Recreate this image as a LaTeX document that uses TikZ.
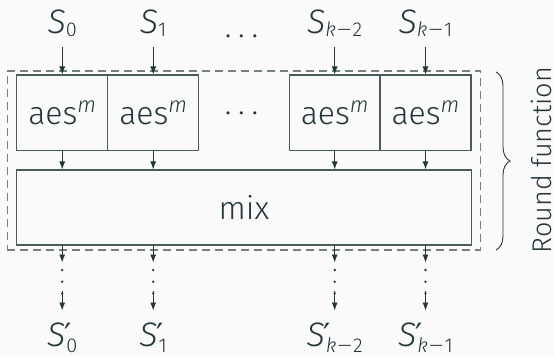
\documentclass[tikz,border=0pt]{standalone}
\usepackage{fontspec}
\setmainfont{Fira Sans Light}
\newfontfamily\djv{DejaVu Sans}
\usetikzlibrary{arrows.meta,decorations.pathreplacing}
\definecolor{fg}{HTML}{23373B}
\definecolor{bgc}{HTML}{FAFAFA}
\definecolor{dashc}{HTML}{75817F}
\definecolor{boxc}{HTML}{4A5B5E}
\newcommand\supm{\raisebox{12pt}{\fontsize{22}{22}\selectfont\itshape m}}
\newcommand\mminus{\scalebox{1.7}[1]{−}}
\newcommand\sublbl[1]{{\fontsize{34}{38}\selectfont\textit{S}}\raisebox{-3pt}{\fontsize{20}{20}\selectfont #1}}
\newcommand\sublblp[1]{{\fontsize{34}{38}\selectfont\textit{S}}\rlap{\kern-1pt\raisebox{0pt}{\fontsize{32}{32}\djv ′}}\kern1pt\raisebox{-6pt}{\fontsize{20}{20}\selectfont #1}}
\tikzset{
  every node/.style={text=fg, font=\fontsize{32}{38}\selectfont},
  opbox/.style={draw=boxc, line width=1.2pt, minimum height=75.7pt, inner sep=0pt},
  arr/.style={draw=fg, line width=0.9pt, -{Latex[length=8pt,width=6pt]}},
  dotl/.style={draw=fg, line width=2.6pt, line cap=round, dash pattern=on 0pt off 11.7pt},
  lbl/.style={anchor=base, inner sep=0pt},
}
\begin{document}
\begin{tikzpicture}[x=1pt,y=-1pt]
\fill[bgc] (0,0) rectangle (554,356);
\useasboundingbox (0,0) rectangle (554,356);
% dashed round-function frame
\node[draw=dashc, line width=1.2pt, dash pattern=on 8pt off 5pt, minimum width=473.4pt, minimum height=179pt, inner sep=0pt] (rf) at (244,160.5) {};
% boxes
\node[opbox, minimum width=91pt] (a0) at (62.2,112.9) {aes\supm};
\node[opbox, minimum width=91pt] (a1) at (153.2,112.9) {aes\supm};
\node[opbox, minimum width=91pt] (a2) at (334.7,112.9) {aes\supm};
\node[opbox, minimum width=91pt] (a3) at (425.5,112.9) {aes\supm};
\node[opbox, minimum width=454.5pt, minimum height=75pt] (mix) at (243.95,207.5) {mix};
% dots
\node[lbl] (d1) at (241.5,37.7) {.\kern6.8pt.\kern6.8pt.};
\node[lbl] (d2) at (241.5,114) {.\kern6.8pt.\kern6.8pt.};
% input labels
\node[lbl] (s0) at (62.2,33) {\sublbl{0}};
\node[lbl] (s1) at (153.2,33) {\sublbl{1}};
\node[lbl] (s2) at (334.7,33) {\sublbl{{\itshape k}\mminus2}};
\node[lbl] (s3) at (425.5,33) {\sublbl{{\itshape k}\mminus1}};
% output labels
\node[lbl] (t0) at (62.2,346.7) {\sublblp{0}};
\node[lbl] (t1) at (153.2,346.7) {\sublblp{1}};
\node[lbl] (t2) at (334.7,346.7) {\sublblp{{\itshape k}\mminus2}};
\node[lbl] (t3) at (425.5,346.7) {\sublblp{{\itshape k}\mminus1}};
\foreach \i/\x in {0/62.2,1/153.2,2/334.7,3/425.5}{
  \coordinate (in\i) at (\x,46.7);
  \draw[arr] (in\i) -- (a\i.north);
  \draw[arr] (a\i.south) -- (a\i.south |- mix.north);
  \coordinate (p\i) at (\x,262.5);
  \coordinate (q\i) at (\x,270);
  \coordinate (r\i) at (\x,293.4);
  \coordinate (u\i) at (\x,290.5);
  \coordinate (v\i) at (\x,310.5);
  \draw[arr] (a\i.south |- mix.south) -- (p\i);
  \draw[dotl] (q\i) -- (r\i);
  \draw[arr] (u\i) -- (v\i);
}
% brace
\coordinate (b1) at (496,72);
\coordinate (b2) at (496,250);
\draw[fg, line width=0.9pt, decorate, decoration={brace, amplitude=14pt}] (b1) -- (b2);
\node[lbl, rotate=90, font=\fontsize{27}{32}\selectfont] (rfl) at (551,160) {Round function};
\end{tikzpicture}
\end{document}
